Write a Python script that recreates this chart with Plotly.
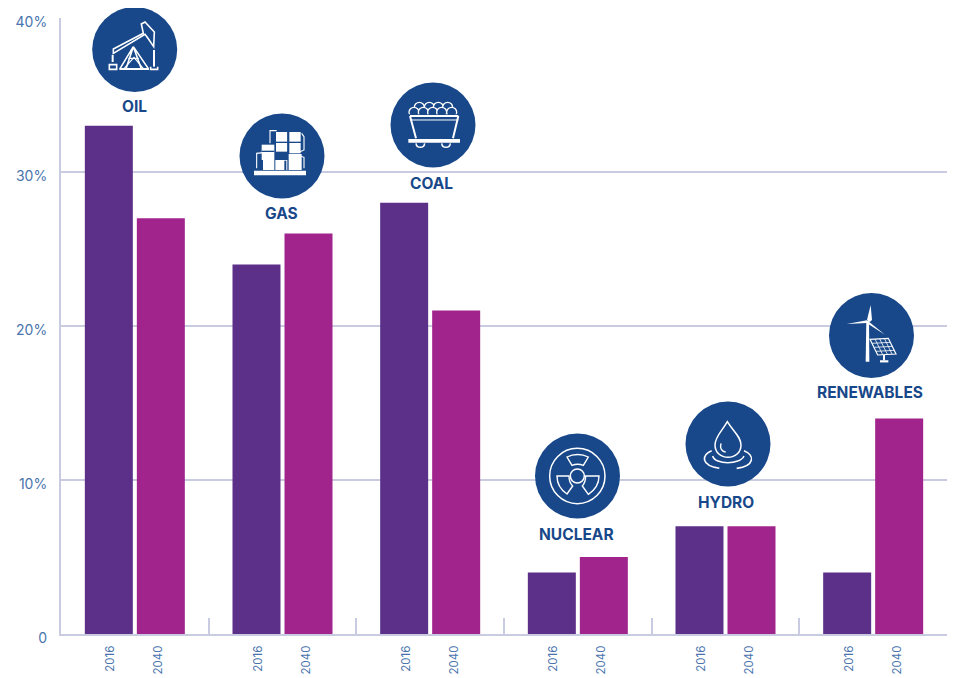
import re
import plotly.graph_objects as go

categories = ["OIL", "GAS", "COAL", "NUCLEAR", "HYDRO", "RENEWABLES"]
years = ["2016", "2040"]
values_2016 = [33, 24, 28, 4, 7, 4]
values_2040 = [27, 26, 21, 5, 7, 14]
y_ticks = [0, 10, 20, 30, 40]
y_tick_labels = ["0", "10%", "20%", "30%", "40%"]

PURPLE = "#5c2f88"
MAGENTA = "#a0248c"
NAVY = "#18488a"
GRID = "#c9cce0"
TICK_TEXT = "#4a74ad"
FONT = "Inter"

# Pixel frame of the plot area, in window pixels
L, R, T, B = 61, 947, 18, 634
W, H = 955, 678
PAGE_INSET = 8  # the page's body margin


def px(x, y):
    return (x - L) / (R - L), (B - y) / (B - T)


def conv(path, ox, oy, s=3.0):
    """Turn an icon path in crop coordinates to paper coordinates."""
    tokens = re.findall(r"[A-Za-z]|-?\d+\.?\d*", path)
    out, pair = [], []
    for t in tokens:
        if t.isalpha():
            out.append(t)
        else:
            pair.append(float(t))
            if len(pair) == 2:
                a, b = px(ox + pair[0] / s, oy + pair[1] / s)
                out.append(f"{a:.5f},{b:.5f}")
                pair = []
    return " ".join(out)


def circ(cx, cy, r):
    k = 0.5523 * r
    return (f"M{cx-r},{cy} C{cx-r},{cy-k} {cx-k},{cy-r} {cx},{cy-r} "
            f"C{cx+k},{cy-r} {cx+r},{cy-k} {cx+r},{cy} "
            f"C{cx+r},{cy+k} {cx+k},{cy+r} {cx},{cy+r} "
            f"C{cx-k},{cy+r} {cx-r},{cy+k} {cx-r},{cy} Z")


shapes = []


def badge(cx, cy):
    x0, y0 = px(cx - 42.5, cy - 42.5)
    x1, y1 = px(cx + 42.5, cy + 42.5)
    shapes.append(dict(type="circle", xref="paper", yref="paper", x0=x0, y0=y0, x1=x1, y1=y1,
                       fillcolor=NAVY, line=dict(width=0), layer="above"))


def stroke(path, origin, w=1.6, fill=None):
    shapes.append(dict(type="path", xref="paper", yref="paper", path=conv(path, *origin),
                       line=dict(color="white", width=w), fillcolor=fill or "rgba(0,0,0,0)",
                       layer="above"))


def solid(path, origin, color="white"):
    shapes.append(dict(type="path", xref="paper", yref="paper", path=conv(path, *origin),
                       line=dict(width=0), fillcolor=color, layer="above"))


# Badges
badges = [(134.7, 49.5), (282, 156), (433, 125), (577.5, 476), (728, 444), (871.5, 335.5)]
for c in badges:
    badge(*c)

# OIL pump jack
o = (0, 0)
stroke("M340,147 L430,100 L424,72 L435,66 L463,96 L461,140 L446,118 L435,103 L340,160 Z", o)
stroke("M400,140 L360,206 M400,140 L445,206 M400,140 L378,206 M400,140 L424,206", o)
stroke("M385,175 L416,175 M372,206 L402,172 L430,206", o, 1.2)
stroke("M358,207 L447,207", o, 2)
stroke("M338,165 L338,186", o, 2)
stroke("M328,194 L350,194 L350,208 L328,208 Z", o)
stroke("M462,150 L462,200", o, 2)
stroke("M452,200 L452,208 L473,208 L473,200", o)

# GAS plant
o = (0, 0)
solid("M762,512 L918,512 L918,526 L762,526 Z", o)
stroke("M770,505 L770,460 L790,458 M912,505 L912,472 L900,468 M810,430 L810,392 L830,392 M905,400 L912,410 L912,450 L900,455", o, 1.1)
solid("M828,396 L862,396 L862,455 L828,455 Z", o)
solid("M868,396 L902,396 L902,460 L868,460 Z", o)
solid("M785,434 L823,434 L823,510 L785,510 Z", o)
solid("M866,462 L905,462 L905,510 L866,510 Z", o)
solid("M826,480 L862,480 L862,510 L826,510 Z", o)
for p in ["M826,468 L862,468 L862,480 L826,480 Z",
          "M853,482 L859,482 L859,510 L853,510 Z",
          "M789,480 L782,480 L782,510 L789,510 Z",
          "M826,425 L905,425 L905,429 L826,429 Z",
          "M862,396 L866,396 L866,462 L862,462 Z",
          "M785,452 L823,452 L823,456 L785,456 Z"]:
    solid(p, o, NAVY)

# COAL cart
o = (360, 70)
for cx, cy in [(178, 112), (208, 112), (235, 112), (263, 112),
               (162, 127), (190, 127), (218, 127), (245, 127), (275, 127)]:
    stroke(circ(cx, cy, 15), o, 1.3, NAVY)
solid("M145,133 L300,133 L285,206 L160,206 Z", o, NAVY)
stroke("M150,138 L295,138", o, 2.2)
stroke("M150,138 L168,205 M295,138 L279,205", o, 2.0)
stroke("M150,150 L295,150", o, 1.0)
solid("M145,207 L300,207 L300,218 L145,218 Z", o)
stroke("M168,220 C170,236 192,236 194,220", o, 1.5)
stroke("M245,220 C247,236 269,236 271,220", o, 1.5)

# NUCLEAR trefoil
o = (520, 400)
stroke(circ(172, 228, 83), o, 1.5)
stroke(circ(172, 228, 21), o, 1.5)
stroke("M156,196 L141,171 C160,161 186,161 205,171 L190,196 C180,192 166,192 156,196 Z", o, 1.4)
stroke("M147,228 L111,228 C111,250 123,270 141,282 L158,258 C150,250 147,240 147,228 Z", o, 1.4)
stroke("M197,228 L237,228 C237,250 225,270 205,283 L187,258 C194,250 197,240 197,228 Z", o, 1.4)

# HYDRO drop
stroke("M622,65 C640,95 663,110 663,135 C663,158 645,172 624,172 C603,172 585,158 585,135 C585,110 605,95 622,65 Z", o, 1.5)
stroke("M603,130 C599,145 605,155 617,156", o, 1.4)
stroke("M575,152 C545,165 540,195 598,205", o, 1.6)
stroke("M672,152 C705,165 705,198 650,205", o, 1.6)
stroke("M578,168 C585,195 660,195 672,168", o, 1.5)

# RENEWABLES turbine and panel
o = (805, 280)
solid("M184,122 L192,122 L193,245 L182,245 Z", o)
solid("M186,120 L197,75 L201,120 L194,126 Z", o)
solid("M186,121 L125,132 L186,129 Z", o)
solid("M190,124 L240,164 L186,130 Z", o)
stroke("M195,178 L250,175 L273,222 L218,225 Z", o, 1.2)
stroke("M201,190 L256,187 M208,202 L263,199 M213,214 L268,211 M210,177 L233,224 M224,176 L247,223 M238,175 L261,222", o, 0.8)
stroke("M237,225 L237,241", o, 2)
stroke("M225,244 L250,244", o, 2.2)

# Category labels
label_pos = [(134, 107), (281, 213), (431, 183), (576, 534), (726, 502), (870, 392)]
annotations = []
for name, (lx, ly) in zip(categories, label_pos):
    ax, ay = px(lx, ly)
    annotations.append(dict(x=ax, y=ay, xref="paper", yref="paper", text=f"<b>{name}</b>",
                            showarrow=False, font=dict(family=FONT, size=15.5, color=NAVY),
                            xanchor="center", yanchor="middle"))

group = list(range(len(categories)))
bar_w = 0.325
fig = go.Figure()
fig.add_bar(x=[i - 0.1761 for i in group], y=values_2016, width=bar_w, marker_color=PURPLE,
            marker_line_width=0, name=years[0], hoverinfo="y")
fig.add_bar(x=[i + 0.1761 for i in group], y=values_2040, width=bar_w, marker_color=MAGENTA,
            marker_line_width=0, name=years[1], hoverinfo="y")

tickvals, ticktext = [], []
for i in group:
    tickvals += [i - 0.165, i + 0.16]
    ticktext += years

fig.update_layout(
    width=W - PAGE_INSET, height=H - PAGE_INSET, autosize=False, barmode="overlay", showlegend=False,
    paper_bgcolor="white", plot_bgcolor="white",
    margin=dict(l=L - PAGE_INSET, r=W - R, t=T - PAGE_INSET, b=H - B, pad=0),
    font=dict(family=FONT),
    shapes=shapes, annotations=annotations,
    xaxis=dict(range=[-0.5, 5.5], tickmode="array", tickvals=tickvals, ticktext=ticktext,
               tickangle=-90, ticks="", tickfont=dict(size=11.5, color=TICK_TEXT),
               ticklabelstandoff=5, showgrid=False, zeroline=False, showline=True,
               linecolor=GRID, linewidth=2, layer="below traces", automargin=False,
               minor=dict(tickmode="array", tickvals=[i + 0.5 for i in group[:-1]], ticks="inside",
                          ticklen=16, tickwidth=2, tickcolor=GRID, showgrid=False)),
    yaxis=dict(range=[0, 40], tickmode="array", tickvals=y_ticks, ticktext=y_tick_labels,
               ticks="", tickfont=dict(size=14, color=TICK_TEXT), ticklabelstandoff=9,
               ticklabelshift=4, showgrid=True, gridcolor=GRID, gridwidth=2, zeroline=False,
               showline=True, linecolor=GRID, linewidth=2, layer="below traces", automargin=False),
)

fig.write_html("out.html")
